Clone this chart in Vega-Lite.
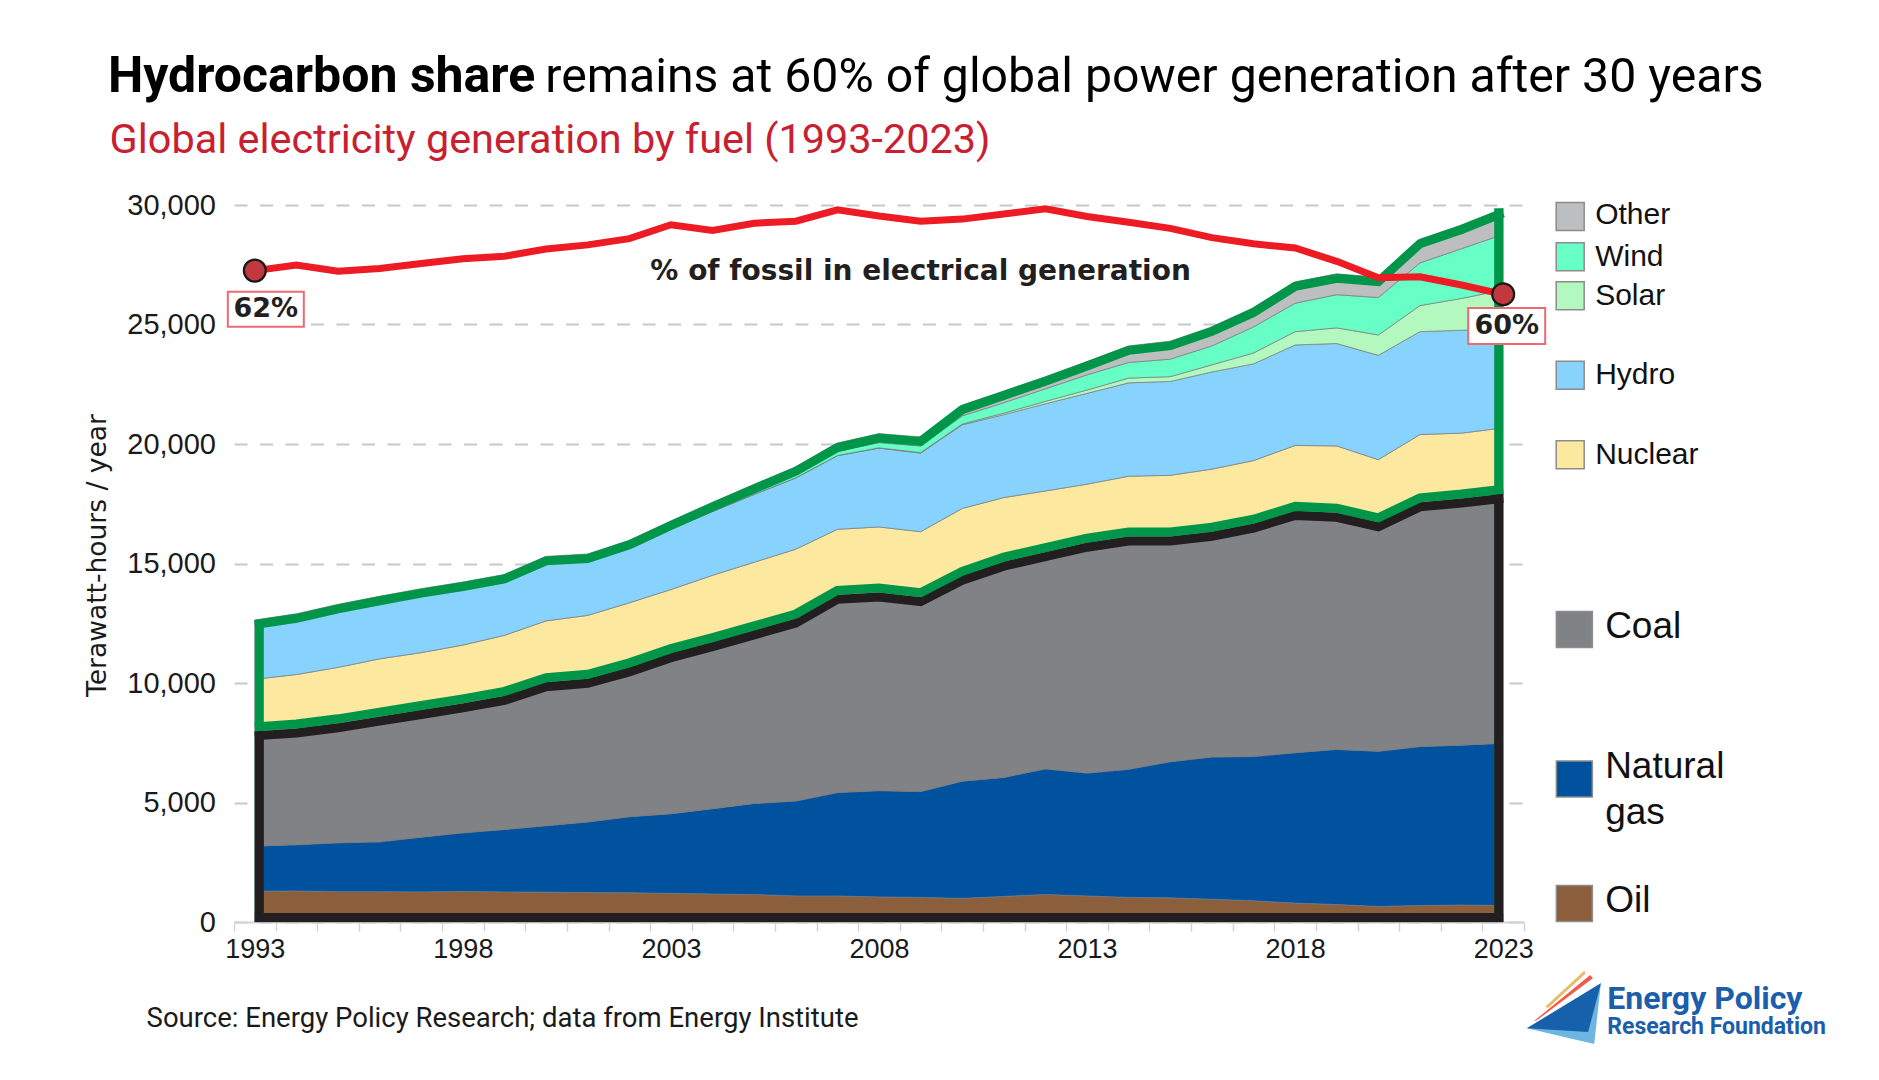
{
  "$schema": "https://vega.github.io/schema/vega-lite/v6.json",
  "width": 1290,
  "height": 717,
  "autosize": {"type": "none"},
  "padding": {"left": 234, "top": 205, "right": 355, "bottom": 158},
  "background": "white",
  "config": {"view": {"stroke": null}, "text": {"font": "Roboto"}},
  "datasets": {
    "gen": [
      {"year": 1993, "Oil": 1290, "Natural gas": 1884, "Coal": 4802, "Nuclear": 2180, "Hydro": 2300, "Solar": 0, "Wind": 3, "Other": 179, "pct": 61.9},
      {"year": 1994, "Oil": 1300, "Natural gas": 1934, "Coal": 4861, "Nuclear": 2260, "Hydro": 2330, "Solar": 0, "Wind": 4, "Other": 207, "pct": 62.45},
      {"year": 1995, "Oil": 1270, "Natural gas": 2043, "Coal": 5000, "Nuclear": 2340, "Hydro": 2430, "Solar": 0, "Wind": 6, "Other": 204, "pct": 61.85},
      {"year": 1996, "Oil": 1270, "Natural gas": 2083, "Coal": 5238, "Nuclear": 2420, "Hydro": 2400, "Solar": 0, "Wind": 8, "Other": 211, "pct": 62.1},
      {"year": 1997, "Oil": 1260, "Natural gas": 2291, "Coal": 5318, "Nuclear": 2400, "Hydro": 2450, "Solar": 0, "Wind": 12, "Other": 217, "pct": 62.6},
      {"year": 1998, "Oil": 1280, "Natural gas": 2450, "Coal": 5417, "Nuclear": 2440, "Hydro": 2400, "Solar": 0, "Wind": 16, "Other": 222, "pct": 63.05},
      {"year": 1999, "Oil": 1260, "Natural gas": 2609, "Coal": 5595, "Nuclear": 2530, "Hydro": 2300, "Solar": 0, "Wind": 21, "Other": 228, "pct": 63.3},
      {"year": 2000, "Oil": 1250, "Natural gas": 2778, "Coal": 6002, "Nuclear": 2570, "Hydro": 2430, "Solar": 1, "Wind": 31, "Other": 238, "pct": 64.0},
      {"year": 2001, "Oil": 1230, "Natural gas": 2956, "Coal": 5992, "Nuclear": 2650, "Hydro": 2280, "Solar": 2, "Wind": 38, "Other": 252, "pct": 64.4},
      {"year": 2002, "Oil": 1220, "Natural gas": 3184, "Coal": 6250, "Nuclear": 2700, "Hydro": 2300, "Solar": 2, "Wind": 52, "Other": 263, "pct": 65.0},
      {"year": 2003, "Oil": 1200, "Natural gas": 3330, "Coal": 6720, "Nuclear": 2660, "Hydro": 2530, "Solar": 3, "Wind": 63, "Other": 274, "pct": 66.35},
      {"year": 2004, "Oil": 1170, "Natural gas": 3572, "Coal": 6964, "Nuclear": 2800, "Hydro": 2670, "Solar": 3, "Wind": 85, "Other": 294, "pct": 65.8},
      {"year": 2005, "Oil": 1150, "Natural gas": 3810, "Coal": 7242, "Nuclear": 2850, "Hydro": 2840, "Solar": 4, "Wind": 104, "Other": 312, "pct": 66.5},
      {"year": 2006, "Oil": 1090, "Natural gas": 3969, "Coal": 7639, "Nuclear": 2900, "Hydro": 2980, "Solar": 6, "Wind": 133, "Other": 329, "pct": 66.7},
      {"year": 2007, "Oil": 1090, "Natural gas": 4326, "Coal": 8274, "Nuclear": 2740, "Hydro": 3080, "Solar": 8, "Wind": 171, "Other": 349, "pct": 67.8},
      {"year": 2008, "Oil": 1050, "Natural gas": 4446, "Coal": 8293, "Nuclear": 2740, "Hydro": 3300, "Solar": 12, "Wind": 220, "Other": 374, "pct": 67.2},
      {"year": 2009, "Oil": 1030, "Natural gas": 4426, "Coal": 8134, "Nuclear": 2740, "Hydro": 3290, "Solar": 20, "Wind": 276, "Other": 380, "pct": 66.7},
      {"year": 2010, "Oil": 990, "Natural gas": 4902, "Coal": 8591, "Nuclear": 2820, "Hydro": 3500, "Solar": 32, "Wind": 342, "Other": 449, "pct": 66.9},
      {"year": 2011, "Oil": 1070, "Natural gas": 4981, "Coal": 9027, "Nuclear": 2680, "Hydro": 3470, "Solar": 64, "Wind": 437, "Other": 492, "pct": 67.4},
      {"year": 2012, "Oil": 1150, "Natural gas": 5258, "Coal": 9067, "Nuclear": 2560, "Hydro": 3650, "Solar": 100, "Wind": 523, "Other": 508, "pct": 67.9},
      {"year": 2013, "Oil": 1090, "Natural gas": 5140, "Coal": 9640, "Nuclear": 2450, "Hydro": 3800, "Solar": 139, "Wind": 637, "Other": 555, "pct": 67.15},
      {"year": 2014, "Oil": 1030, "Natural gas": 5358, "Coal": 9742, "Nuclear": 2520, "Hydro": 3908, "Solar": 199, "Wind": 654, "Other": 694, "pct": 66.6},
      {"year": 2015, "Oil": 1010, "Natural gas": 5696, "Coal": 9424, "Nuclear": 2560, "Hydro": 3928, "Solar": 200, "Wind": 733, "Other": 753, "pct": 66.0},
      {"year": 2016, "Oil": 950, "Natural gas": 5954, "Coal": 9424, "Nuclear": 2620, "Hydro": 4066, "Solar": 298, "Wind": 793, "Other": 794, "pct": 65.1},
      {"year": 2017, "Oil": 890, "Natural gas": 6034, "Coal": 9742, "Nuclear": 2640, "Hydro": 4046, "Solar": 456, "Wind": 1091, "Other": 794, "pct": 64.5},
      {"year": 2018, "Oil": 790, "Natural gas": 6293, "Coal": 10118, "Nuclear": 2738, "Hydro": 4206, "Solar": 556, "Wind": 1190, "Other": 893, "pct": 64.1},
      {"year": 2019, "Oil": 730, "Natural gas": 6492, "Coal": 9900, "Nuclear": 2797, "Hydro": 4286, "Solar": 655, "Wind": 1388, "Other": 873, "pct": 62.8},
      {"year": 2020, "Oil": 650, "Natural gas": 6492, "Coal": 9583, "Nuclear": 2619, "Hydro": 4365, "Solar": 853, "Wind": 1567, "Other": 853, "pct": 61.2},
      {"year": 2021, "Oil": 690, "Natural gas": 6651, "Coal": 10217, "Nuclear": 2838, "Hydro": 4305, "Solar": 1091, "Wind": 1785, "Other": 993, "pct": 61.3},
      {"year": 2022, "Oil": 710, "Natural gas": 6690, "Coal": 10317, "Nuclear": 2738, "Hydro": 4305, "Solar": 1330, "Wind": 2083, "Other": 992, "pct": 60.5},
      {"year": 2023, "Oil": 690, "Natural gas": 6790, "Coal": 10436, "Nuclear": 2757, "Hydro": 4167, "Solar": 1607, "Wind": 2321, "Other": 1091, "pct": 59.6}
    ],
    "fuels": [
      {"fuel": "Oil", "at": 774, "labelAt": 879},
      {"fuel": "Natural gas", "at": 5983, "labelAt": 6490},
      {"fuel": "Coal", "at": 12238, "labelAt": 12355},
      {"fuel": "Nuclear", "at": 19548, "labelAt": 19548},
      {"fuel": "Hydro", "at": 22878, "labelAt": 22878},
      {"fuel": "Solar", "at": 26200, "labelAt": 26200},
      {"fuel": "Wind", "at": 27832, "labelAt": 27832},
      {"fuel": "Other", "at": 29518, "labelAt": 29600}
    ]
  },
  "data": {"name": "gen"},
  "resolve": {"scale": {"y": "independent"}},
  "layer": [
    {
      "layer": [
        {
          "transform": [
            {"fold": ["Oil", "Natural gas", "Coal", "Nuclear", "Hydro", "Solar", "Wind", "Other"], "as": ["fuel", "twh"]},
            {"lookup": "fuel", "from": {"data": {"values": [
              {"name": "Oil", "rank": 1}, {"name": "Natural gas", "rank": 2}, {"name": "Coal", "rank": 3}, {"name": "Nuclear", "rank": 4},
              {"name": "Hydro", "rank": 5}, {"name": "Solar", "rank": 6}, {"name": "Wind", "rank": 7}, {"name": "Other", "rank": 8}
            ]}, "key": "name", "fields": ["rank"]}}
          ],
          "mark": {"type": "area", "interpolate": "linear", "stroke": "#77787b", "strokeWidth": 0.7},
          "encoding": {
            "x": {
              "field": "year", "type": "quantitative",
              "scale": {"domain": [1992.5, 2023.5], "nice": false, "zero": false},
              "axis": {
                "title": null, "grid": false,
                "values": [1992.5, 1993.5, 1994.5, 1995.5, 1996.5, 1997.5, 1998.5, 1999.5, 2000.5, 2001.5, 2002.5, 2003.5, 2004.5, 2005.5, 2006.5, 2007.5, 2008.5, 2009.5, 2010.5, 2011.5, 2012.5, 2013.5, 2014.5, 2015.5, 2016.5, 2017.5, 2018.5, 2019.5, 2020.5, 2021.5, 2022.5, 2023.5],
                "labelExpr": "((datum.value - 1992.5) % 5 == 0) ? format(datum.value + 0.5, 'd') : ''",
                "labelOffset": 20.8, "labelOverlap": false, "labelFlush": false, "labelBound": false,
                "labelFont": "Liberation Sans", "labelFontSize": 27, "labelColor": "#1a1a1a", "labelPadding": 5,
                "tickSize": 9, "tickWidth": 1.5, "tickColor": "#d4d4d4",
                "domainColor": "#d4d4d4", "domainWidth": 2
              }
            },
            "y": {
              "field": "twh", "type": "quantitative", "stack": "zero",
              "scale": {"domain": [0, 30000], "nice": false},
              "axis": {
                "values": [0, 5000, 10000, 15000, 20000, 25000, 30000],
                "labelExpr": "format(datum.value, ',')",
                "domain": false, "ticks": false,
                "grid": true, "gridDash": [13, 12.5], "gridColor": "#c8c8c8", "gridWidth": 2,
                "labelFont": "Liberation Sans", "labelFontSize": 29, "labelColor": "#1a1a1a", "labelPadding": 18.5,
                "title": "Terawatt-hours / year", "titleFont": "DejaVu Sans", "titleFontSize": 26.5, "titleFontWeight": "normal",
                "titleColor": "#1a1a1a", "titleX": -137, "titleY": 350, "titleAngle": 270, "titleAlign": "center", "titleBaseline": "middle"
              }
            },
            "color": {
              "field": "fuel", "type": "nominal", "legend": null,
              "scale": {
                "domain": ["Oil", "Natural gas", "Coal", "Nuclear", "Hydro", "Solar", "Wind", "Other"],
                "range": ["#8b5e3c", "#00529f", "#808285", "#fde8a0", "#87d3fd", "#b3f9bf", "#67ffc6", "#bcbec0"]
              }
            },
            "order": {"field": "rank", "type": "quantitative"}
          }
        },
        {
          "transform": [
            {"fold": ["Oil", "Natural gas", "Coal", "Nuclear", "Hydro", "Solar", "Wind", "Other"], "as": ["fuel", "twh"]},
            {"aggregate": [{"op": "sum", "field": "twh", "as": "total"}], "groupby": ["year"]}
          ],
          "layer": [
            {
              "mark": {"type": "line", "color": "#00964a", "strokeWidth": 9, "yOffset": 4.5},
              "encoding": {
                "x": {"field": "year", "type": "quantitative", "scale": {"domain": [1992.5, 2023.5], "nice": false, "zero": false}},
                "y": {"field": "total", "type": "quantitative", "scale": {"domain": [0, 30000], "nice": false}}
              }
            },
            {
              "transform": [{"filter": {"field": "year", "equal": 1993}}],
              "mark": {"type": "rule", "color": "#00964a", "strokeWidth": 9, "xOffset": 4.5},
              "encoding": {
                "x": {"field": "year", "type": "quantitative", "scale": {"domain": [1992.5, 2023.5], "nice": false, "zero": false}},
                "y": {"field": "total", "type": "quantitative", "scale": {"domain": [0, 30000], "nice": false}},
                "y2": {"datum": 0}
              }
            },
            {
              "transform": [{"filter": {"field": "year", "equal": 2023}}],
              "mark": {"type": "rule", "color": "#00964a", "strokeWidth": 9, "xOffset": -4.5},
              "encoding": {
                "x": {"field": "year", "type": "quantitative", "scale": {"domain": [1992.5, 2023.5], "nice": false, "zero": false}},
                "y": {"field": "total", "type": "quantitative", "scale": {"domain": [0, 30000], "nice": false}},
                "y2": {"datum": 0}
              }
            }
          ]
        },
        {
          "transform": [
            {"fold": ["Oil", "Natural gas", "Coal"], "as": ["fuel", "twh"]},
            {"aggregate": [{"op": "sum", "field": "twh", "as": "fossil"}], "groupby": ["year"]}
          ],
          "layer": [
            {
              "transform": [{"filter": {"field": "year", "equal": 1993}}],
              "mark": {"type": "rule", "color": "#231f20", "strokeWidth": 9, "xOffset": 4.5},
              "encoding": {
                "x": {"field": "year", "type": "quantitative", "scale": {"domain": [1992.5, 2023.5], "nice": false, "zero": false}},
                "y": {"field": "fossil", "type": "quantitative", "scale": {"domain": [0, 30000], "nice": false}},
                "y2": {"datum": 0}
              }
            },
            {
              "transform": [{"filter": {"field": "year", "equal": 2023}}],
              "mark": {"type": "rule", "color": "#231f20", "strokeWidth": 9, "xOffset": -4.5},
              "encoding": {
                "x": {"field": "year", "type": "quantitative", "scale": {"domain": [1992.5, 2023.5], "nice": false, "zero": false}},
                "y": {"field": "fossil", "type": "quantitative", "scale": {"domain": [0, 30000], "nice": false}},
                "y2": {"datum": 0}
              }
            },
            {
              "mark": {"type": "line", "color": "#231f20", "strokeWidth": 9, "yOffset": 4.5},
              "encoding": {
                "x": {"field": "year", "type": "quantitative", "scale": {"domain": [1992.5, 2023.5], "nice": false, "zero": false}},
                "y": {"field": "fossil", "type": "quantitative", "scale": {"domain": [0, 30000], "nice": false}}
              }
            },
            {
              "mark": {"type": "line", "color": "#00964a", "strokeWidth": 9, "yOffset": -4.5},
              "encoding": {
                "x": {"field": "year", "type": "quantitative", "scale": {"domain": [1992.5, 2023.5], "nice": false, "zero": false}},
                "y": {"field": "fossil", "type": "quantitative", "scale": {"domain": [0, 30000], "nice": false}}
              }
            }
          ]
        },
        {
          "data": {"values": [{"from": 1993, "to": 2023, "base": 0}]},
          "mark": {"type": "rule", "color": "#231f20", "strokeWidth": 9, "yOffset": -4.5},
          "encoding": {
            "x": {"field": "from", "type": "quantitative", "scale": {"domain": [1992.5, 2023.5], "nice": false, "zero": false}},
            "x2": {"field": "to"},
            "y": {"field": "base", "type": "quantitative", "scale": {"domain": [0, 30000], "nice": false}}
          }
        },
        {
          "data": {"name": "fuels"},
          "transform": [{"filter": {"not": {"field": "fuel", "oneOf": ["Coal", "Natural gas", "Oil"]}}}],
          "layer": [
            {
              "mark": {"type": "point", "shape": "square", "size": 784, "filled": true, "opacity": 1, "stroke": "#8c8c8c", "strokeWidth": 1.5},
              "encoding": {
                "x": {"datum": 2024.61, "type": "quantitative", "scale": {"domain": [1992.5, 2023.5], "nice": false, "zero": false}},
                "y": {"field": "at", "type": "quantitative", "scale": {"domain": [0, 30000], "nice": false}},
                "color": {"field": "fuel", "type": "nominal", "legend": null}
              }
            },
            {
              "mark": {"type": "text", "align": "left", "baseline": "middle", "font": "Liberation Sans", "fontSize": 30, "color": "#111111"},
              "encoding": {
                "x": {"datum": 2025.21, "type": "quantitative", "scale": {"domain": [1992.5, 2023.5], "nice": false, "zero": false}},
                "y": {"field": "labelAt", "type": "quantitative", "scale": {"domain": [0, 30000], "nice": false}},
                "text": {"field": "fuel"}
              }
            }
          ]
        },
        {
          "data": {"name": "fuels"},
          "transform": [{"filter": {"field": "fuel", "oneOf": ["Coal", "Natural gas", "Oil"]}}],
          "layer": [
            {
              "mark": {"type": "point", "shape": "square", "size": 1296, "filled": true, "opacity": 1, "stroke": "#8c8c8c", "strokeWidth": 1.5},
              "encoding": {
                "x": {"datum": 2024.71, "type": "quantitative", "scale": {"domain": [1992.5, 2023.5], "nice": false, "zero": false}},
                "y": {"field": "at", "type": "quantitative", "scale": {"domain": [0, 30000], "nice": false}},
                "color": {"field": "fuel", "type": "nominal", "legend": null}
              }
            },
            {
              "mark": {"type": "text", "align": "left", "baseline": "middle", "font": "Liberation Sans", "fontSize": 37, "color": "#111111", "lineBreak": " ", "lineHeight": 46},
              "encoding": {
                "x": {"datum": 2025.45, "type": "quantitative", "scale": {"domain": [1992.5, 2023.5], "nice": false, "zero": false}},
                "y": {"field": "labelAt", "type": "quantitative", "scale": {"domain": [0, 30000], "nice": false}},
                "text": {"field": "fuel"}
              }
            }
          ]
        },
        {
          "data": {"values": [{}]},
          "layer": [
            {
              "mark": {"type": "text", "align": "center", "baseline": "alphabetic", "font": "DejaVu Sans", "fontWeight": "bold", "fontSize": 28, "color": "#231f20"},
              "encoding": {
                "x": {"datum": 2009.0, "type": "quantitative", "scale": {"domain": [1992.5, 2023.5], "nice": false, "zero": false}},
                "y": {"datum": 26861, "type": "quantitative", "scale": {"domain": [0, 30000], "nice": false}},
                "text": {"value": "% of fossil in electrical generation"}
              }
            },
            {
              "mark": {"type": "text", "align": "left", "baseline": "alphabetic", "font": "Roboto", "fontWeight": "bold", "fontSize": 50, "color": "#000000"},
              "encoding": {
                "x": {"datum": 1989.47, "type": "quantitative", "scale": {"domain": [1992.5, 2023.5], "nice": false, "zero": false}},
                "y": {"datum": 34740, "type": "quantitative", "scale": {"domain": [0, 30000], "nice": false}},
                "text": {"value": "Hydrocarbon share"}
              }
            },
            {
              "mark": {"type": "text", "align": "left", "baseline": "alphabetic", "font": "Roboto", "fontWeight": "normal", "fontSize": 48.2, "color": "#000000"},
              "encoding": {
                "x": {"datum": 1999.98, "type": "quantitative", "scale": {"domain": [1992.5, 2023.5], "nice": false, "zero": false}},
                "y": {"datum": 34740, "type": "quantitative", "scale": {"domain": [0, 30000], "nice": false}},
                "text": {"value": "remains at 60% of global power generation after 30 years"}
              }
            },
            {
              "mark": {"type": "text", "align": "left", "baseline": "alphabetic", "font": "Roboto", "fontSize": 41.4, "color": "#c8202f"},
              "encoding": {
                "x": {"datum": 1989.51, "type": "quantitative", "scale": {"domain": [1992.5, 2023.5], "nice": false, "zero": false}},
                "y": {"datum": 32180, "type": "quantitative", "scale": {"domain": [0, 30000], "nice": false}},
                "text": {"value": "Global electricity generation by fuel (1993-2023)"}
              }
            },
            {
              "mark": {"type": "text", "align": "left", "baseline": "alphabetic", "font": "Roboto", "fontSize": 27.5, "color": "#1a1a1a"},
              "encoding": {
                "x": {"datum": 1990.4, "type": "quantitative", "scale": {"domain": [1992.5, 2023.5], "nice": false, "zero": false}},
                "y": {"datum": -4380, "type": "quantitative", "scale": {"domain": [0, 30000], "nice": false}},
                "text": {"value": "Source: Energy Policy Research; data from Energy Institute"}
              }
            },
            {
              "mark": {"type": "point", "shape": "M-25,-3.3L14,-39.3L15.5,-36.5L-22,-2Z", "size": 4, "filled": true, "opacity": 1, "fill": "#e2c06b", "strokeWidth": 0},
              "encoding": {
                "x": {"datum": 2024.61, "type": "quantitative", "scale": {"domain": [1992.5, 2023.5], "nice": false, "zero": false}},
                "y": {"datum": -3682, "type": "quantitative", "scale": {"domain": [0, 30000], "nice": false}}
              }
            },
            {
              "mark": {"type": "point", "shape": "M-37,11.7L20,-35L22.7,-31.7L-33,10Z", "size": 4, "filled": true, "opacity": 1, "fill": "#f15a4a", "strokeWidth": 0},
              "encoding": {
                "x": {"datum": 2024.61, "type": "quantitative", "scale": {"domain": [1992.5, 2023.5], "nice": false, "zero": false}},
                "y": {"datum": -3682, "type": "quantitative", "scale": {"domain": [0, 30000], "nice": false}}
              }
            },
            {
              "mark": {"type": "point", "shape": "M-43.3,18.3L30.7,-26.7L24,34Z", "size": 4, "filled": true, "opacity": 1, "fill": "#6db6e2", "strokeWidth": 0},
              "encoding": {
                "x": {"datum": 2024.61, "type": "quantitative", "scale": {"domain": [1992.5, 2023.5], "nice": false, "zero": false}},
                "y": {"datum": -3682, "type": "quantitative", "scale": {"domain": [0, 30000], "nice": false}}
              }
            },
            {
              "mark": {"type": "point", "shape": "M-43.3,18.3L30.7,-26.7L18,22Z", "size": 4, "filled": true, "opacity": 1, "fill": "#1660ac", "strokeWidth": 0},
              "encoding": {
                "x": {"datum": 2024.61, "type": "quantitative", "scale": {"domain": [1992.5, 2023.5], "nice": false, "zero": false}},
                "y": {"datum": -3682, "type": "quantitative", "scale": {"domain": [0, 30000], "nice": false}}
              }
            },
            {
              "mark": {"type": "text", "align": "left", "baseline": "alphabetic", "font": "Roboto", "fontWeight": "bold", "fontSize": 32, "color": "#1b5eab"},
              "encoding": {
                "x": {"datum": 2025.5, "type": "quantitative", "scale": {"domain": [1992.5, 2023.5], "nice": false, "zero": false}},
                "y": {"datum": -3640, "type": "quantitative", "scale": {"domain": [0, 30000], "nice": false}},
                "text": {"value": "Energy Policy"}
              }
            },
            {
              "mark": {"type": "text", "align": "left", "baseline": "alphabetic", "font": "Roboto", "fontWeight": "bold", "fontSize": 23, "color": "#1b5eab"},
              "encoding": {
                "x": {"datum": 2025.5, "type": "quantitative", "scale": {"domain": [1992.5, 2023.5], "nice": false, "zero": false}},
                "y": {"datum": -4700, "type": "quantitative", "scale": {"domain": [0, 30000], "nice": false}},
                "text": {"value": "Research Foundation"}
              }
            }
          ]
        }
      ]
    },
    {
      "layer": [
        {
          "mark": {"type": "line", "color": "#ed1c24", "strokeWidth": 7},
          "encoding": {
            "x": {"field": "year", "type": "quantitative", "scale": {"domain": [1992.5, 2023.5], "nice": false, "zero": false}},
            "y": {"field": "pct", "type": "quantitative", "scale": {"domain": [-1.34, 68.27], "nice": false, "zero": false}, "axis": null}
          }
        },
        {
          "transform": [{"filter": {"field": "year", "oneOf": [1993, 2023]}}],
          "mark": {"type": "point", "shape": "circle", "size": 480, "filled": true, "opacity": 1, "fill": "#c1393f", "stroke": "#1a1a1a", "strokeWidth": 2.2},
          "encoding": {
            "x": {"field": "year", "type": "quantitative", "scale": {"domain": [1992.5, 2023.5], "nice": false, "zero": false}},
            "y": {"field": "pct", "type": "quantitative", "scale": {"domain": [-1.34, 68.27], "nice": false, "zero": false}, "axis": null}
          }
        },
        {
          "transform": [{"filter": {"field": "year", "equal": 1993}}],
          "mark": {"type": "point", "shape": "M-38,-17.5H38V17.5H-38Z", "size": 4, "filled": true, "opacity": 1, "fill": "#ffffff", "stroke": "#ec6b73", "strokeWidth": 2, "xOffset": 11, "yOffset": 38.6},
          "encoding": {
            "x": {"field": "year", "type": "quantitative", "scale": {"domain": [1992.5, 2023.5], "nice": false, "zero": false}},
            "y": {"field": "pct", "type": "quantitative", "scale": {"domain": [-1.34, 68.27], "nice": false, "zero": false}, "axis": null}
          }
        },
        {
          "transform": [{"filter": {"field": "year", "equal": 1993}}],
          "mark": {"type": "text", "align": "center", "baseline": "middle", "font": "DejaVu Sans", "fontWeight": "bold", "fontSize": 27, "color": "#231f20", "dx": 11, "dy": 38.6},
          "encoding": {
            "x": {"field": "year", "type": "quantitative", "scale": {"domain": [1992.5, 2023.5], "nice": false, "zero": false}},
            "y": {"field": "pct", "type": "quantitative", "scale": {"domain": [-1.34, 68.27], "nice": false, "zero": false}, "axis": null},
            "text": {"value": "62%"}
          }
        },
        {
          "transform": [{"filter": {"field": "year", "equal": 2023}}],
          "mark": {"type": "point", "shape": "M-38.5,-18H38.5V18H-38.5Z", "size": 4, "filled": true, "opacity": 1, "fill": "#ffffff", "stroke": "#ec6b73", "strokeWidth": 2, "xOffset": 3.5, "yOffset": 31.8},
          "encoding": {
            "x": {"field": "year", "type": "quantitative", "scale": {"domain": [1992.5, 2023.5], "nice": false, "zero": false}},
            "y": {"field": "pct", "type": "quantitative", "scale": {"domain": [-1.34, 68.27], "nice": false, "zero": false}, "axis": null}
          }
        },
        {
          "transform": [{"filter": {"field": "year", "equal": 2023}}],
          "mark": {"type": "text", "align": "center", "baseline": "middle", "font": "DejaVu Sans", "fontWeight": "bold", "fontSize": 27, "color": "#231f20", "dx": 3.5, "dy": 31.8},
          "encoding": {
            "x": {"field": "year", "type": "quantitative", "scale": {"domain": [1992.5, 2023.5], "nice": false, "zero": false}},
            "y": {"field": "pct", "type": "quantitative", "scale": {"domain": [-1.34, 68.27], "nice": false, "zero": false}, "axis": null},
            "text": {"value": "60%"}
          }
        }
      ]
    }
  ]
}
